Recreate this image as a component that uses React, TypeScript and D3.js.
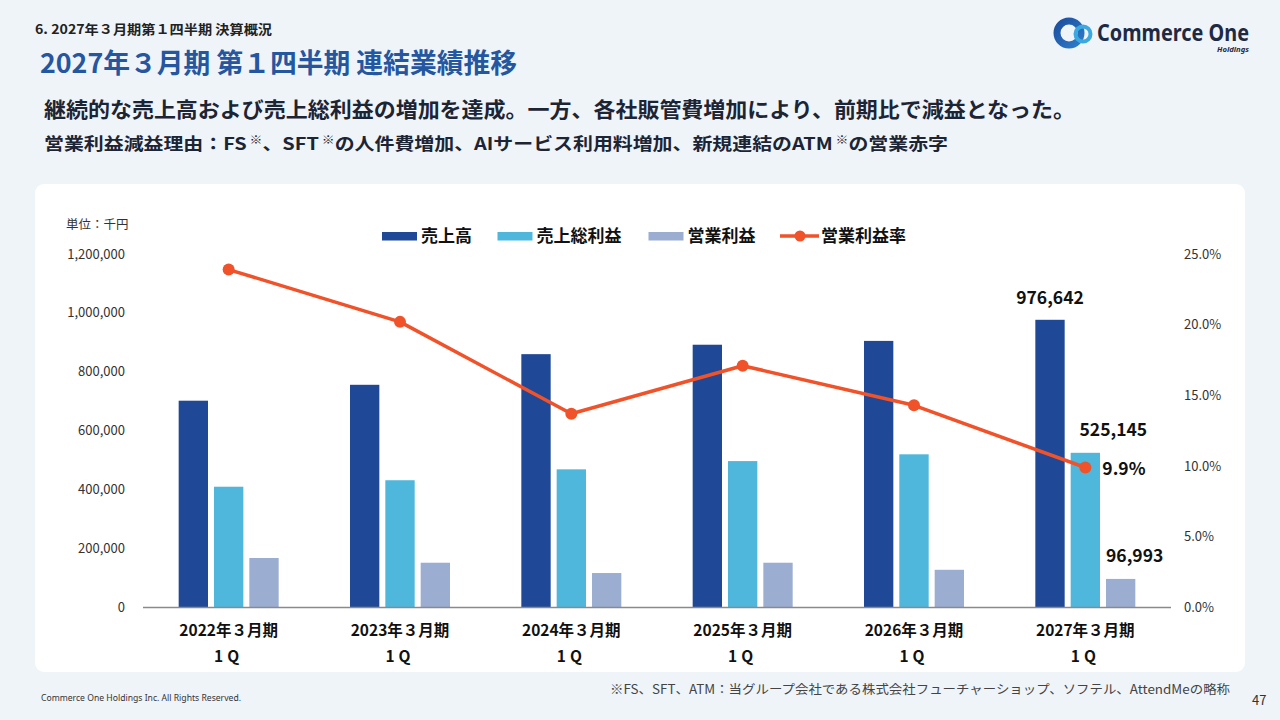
import React from "react";
import * as d3 from "d3";

const categories = ["2022年３月期", "2023年３月期", "2024年３月期", "2025年３月期", "2026年３月期", "2027年３月期"];
const quarterLabel = "1Q";
const seriesNames = ["売上高", "売上総利益", "営業利益"];
const sales = [702000, 756000, 860000, 892000, 905000, 976642];
const grossProfit = [410000, 432000, 469000, 497000, 520000, 525145];
const operatingProfit = [168000, 152000, 117000, 152000, 128000, 96993];
const operatingMargin = [0.239, 0.202, 0.137, 0.171, 0.143, 0.099];
const lineName = "営業利益率";
const leftTicks = [0, 200000, 400000, 600000, 800000, 1000000, 1200000];
const rightTicks = [0, 0.05, 0.1, 0.15, 0.2, 0.25];

const COLORS = ["#1F4896", "#4FB6DC", "#9BADD1"];
const LINE_COLOR = "#F0522A";
const JP = "'Noto Sans CJK JP', 'Noto Sans', sans-serif";

export default function App() {
  const x = d3.scaleBand<string>().domain(categories).range([143, 1171]).padding(0);
  const inner = d3.scaleBand<string>().domain(seriesNames).range([-50, 50]).paddingInner(0.17).paddingOuter(0);
  const y = d3.scaleLinear().domain([0, 1200000]).range([607.5, 254]);
  const y2 = d3.scaleLinear().domain([0, 0.25]).range([607.5, 254]);
  const seriesData = [sales, grossProfit, operatingProfit];
  const fmt = d3.format(",");
  const pct = d3.format(".1%");
  const cx = (c: string) => (x(c) as number) + x.bandwidth() / 2;
  const line = d3
    .line<number>()
    .x((_, i) => cx(categories[i]))
    .y((d) => y2(d));
  const last = categories.length - 1;
  const lastC = categories[last];
  const barCx = (s: string, c: string) => cx(c) + (inner(s) as number) + inner.bandwidth() / 2;

  return (
    <svg
      width={1280}
      height={720}
      style={{ position: "absolute", left: 0, top: 0, display: "block" }}
      fontFamily={JP}
    >
      <rect x={0} y={0} width={1280} height={720} fill="#EFF4F9" />

      {/* header */}
      <text x={35} y={34} fontSize={13} fontWeight={700} fill="#222" textLength={237} lengthAdjust="spacingAndGlyphs">
        6. 2027年３月期第１四半期 決算概況
      </text>
      <text x={40} y={73} fontSize={27} fontWeight={700} fill="#2556A0" textLength={477} lengthAdjust="spacingAndGlyphs">
        2027年３月期 第１四半期 連結業績推移
      </text>
      <text x={44} y={117} fontSize={21} fontWeight={700} fill="#1D2433" textLength={1031} lengthAdjust="spacingAndGlyphs">
        継続的な売上高および売上総利益の増加を達成。一方、各社販管費増加により、前期比で減益となった。
      </text>
      <text x={44} y={150} fontSize={17} fontWeight={700} fill="#1D2433" textLength={904} lengthAdjust="spacingAndGlyphs">
        営業利益減益理由：FS<tspan fontSize={11} dy={-6}> ※</tspan>
        <tspan dy={6}>、SFT</tspan>
        <tspan fontSize={11} dy={-6}> ※</tspan>
        <tspan dy={6}>の人件費増加、AIサービス利用料増加、新規連結のATM</tspan>
        <tspan fontSize={11} dy={-6}> ※</tspan>
        <tspan dy={6}>の営業赤字</tspan>
      </text>

      {/* logo */}
      <defs>
        <linearGradient id="lg1" x1="0" y1="0" x2="1" y2="1">
          <stop offset="0" stopColor="#1C4E9E" />
          <stop offset="1" stopColor="#2E7CC8" />
        </linearGradient>
      </defs>
      <circle cx={1069} cy={33} r={12} fill="none" stroke="url(#lg1)" strokeWidth={7} />
      <circle cx={1083} cy={34} r={7.5} fill="none" stroke="#3BA9E0" strokeWidth={4} />
      <text x={1097} y={41} fontSize={23} fontWeight={700} fill="#1E2A44" fontFamily="'Noto Sans', sans-serif" textLength={152} lengthAdjust="spacingAndGlyphs">
        Commerce One
      </text>
      <text x={1217} y={52} fontSize={7} fontWeight={700} fontStyle="italic" fill="#1E2A44" fontFamily="'Noto Sans', sans-serif" textLength={32} lengthAdjust="spacingAndGlyphs">
        Holdings
      </text>

      {/* panel */}
      <rect x={35} y={184} width={1210} height={488} rx={9} fill="#FFFFFF" />

      <text x={66} y={229} fontSize={12.5} fill="#333">単位：千円</text>

      {/* left axis */}
      {leftTicks.map((t) => (
        <text key={t} x={125} y={y(t) + 4.5} fontSize={13} fill="#333" textAnchor="end">
          {fmt(t)}
        </text>
      ))}
      {/* right axis */}
      {rightTicks.map((t) => (
        <text key={t} x={1184} y={y2(t) + 4.5} fontSize={13} fill="#333" textAnchor="start">
          {pct(t)}
        </text>
      ))}

      {/* bars */}
      {seriesNames.map((s, si) =>
        categories.map((c, i) => (
          <rect
            key={s + c}
            x={cx(c) + (inner(s) as number)}
            y={y(seriesData[si][i])}
            width={inner.bandwidth()}
            height={y(0) - y(seriesData[si][i])}
            fill={COLORS[si]}
          />
        ))
      )}

      {/* baseline */}
      <line x1={143} x2={1171} y1={y(0)} y2={y(0)} stroke="#8A8A8A" strokeWidth={1.5} />

      {/* line */}
      <path d={line(operatingMargin) || ""} fill="none" stroke={LINE_COLOR} strokeWidth={3.5} strokeLinejoin="round" />
      {operatingMargin.map((v, i) => (
        <circle key={i} cx={cx(categories[i])} cy={y2(v)} r={6} fill={LINE_COLOR} />
      ))}

      {/* data labels last category */}
      <text x={barCx(seriesNames[0], lastC)} y={y(sales[last]) - 16} fontSize={17.5} fontWeight={700} fill="#111" textAnchor="middle">
        {fmt(sales[last])}
      </text>
      <text x={barCx(seriesNames[1], lastC) + 28} y={y(grossProfit[last]) - 17} fontSize={17.5} fontWeight={700} fill="#111" textAnchor="middle">
        {fmt(grossProfit[last])}
      </text>
      <text x={barCx(seriesNames[2], lastC) + 14} y={y(operatingProfit[last]) - 17} fontSize={17.5} fontWeight={700} fill="#111" textAnchor="middle">
        {fmt(operatingProfit[last])}
      </text>
      <text x={cx(lastC) + 17} y={y2(operatingMargin[last]) + 7} fontSize={17.5} fontWeight={700} fill="#111" textAnchor="start">
        {pct(operatingMargin[last])}
      </text>

      {/* x labels */}
      {categories.map((c) => (
        <g key={c}>
          <text x={cx(c)} y={636} fontSize={15.5} fontWeight={700} fill="#111" textAnchor="middle">
            {c}
          </text>
          <text x={cx(c)} y={662} fontSize={15.5} fontWeight={700} fill="#111" textAnchor="middle" letterSpacing={4}>
            {quarterLabel}
          </text>
        </g>
      ))}

      {/* legend */}
      {seriesNames.map((s, si) => {
        const lx = [382, 497.5, 648.5][si];
        return (
          <g key={s}>
            <rect x={lx} y={232} width={35} height={8.5} fill={COLORS[si]} />
            <text x={lx + 39} y={242} fontSize={17} fontWeight={700} fill="#111">
              {s}
            </text>
          </g>
        );
      })}
      <line x1={780} x2={819} y1={236} y2={236} stroke={LINE_COLOR} strokeWidth={3.5} />
      <circle cx={800} cy={236} r={5.5} fill={LINE_COLOR} />
      <text x={821} y={242} fontSize={17} fontWeight={700} fill="#111">
        {lineName}
      </text>

      {/* footer */}
      <text x={41} y={701} fontSize={9.5} fill="#333" fontFamily="'Noto Sans', sans-serif" textLength={200} lengthAdjust="spacingAndGlyphs">
        Commerce One Holdings Inc. All Rights Reserved.
      </text>
      <text x={610} y={694} fontSize={12.5} fill="#444" textLength={620} lengthAdjust="spacingAndGlyphs">
        ※FS、SFT、ATM：当グループ会社である株式会社フューチャーショップ、ソフテル、AttendMeの略称
      </text>
      <text x={1252} y={705} fontSize={13} fill="#333">47</text>
    </svg>
  );
}
